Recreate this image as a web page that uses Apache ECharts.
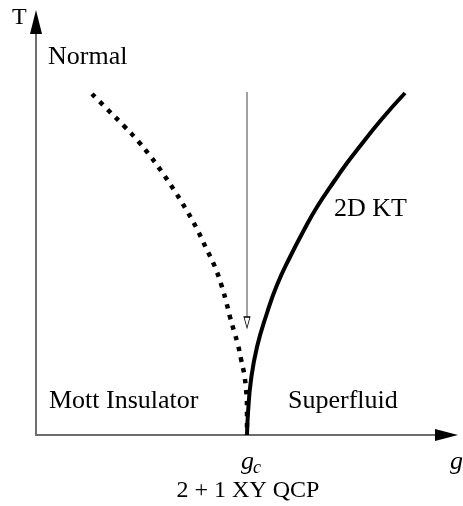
<!DOCTYPE html>
<html>
<head>
<meta charset="utf-8">
<script src="https://cdn.jsdelivr.net/npm/echarts@6/dist/echarts.min.js"></script>
<style>
  html, body { margin: 0; padding: 0; background: #fff; }
  #chart { width: 463px; height: 506px; }
</style>
</head>
<body>
<div id="chart"></div>
<script>
// phase boundaries (x = g, y = T, arbitrary units)
var gc = 211;
var insulatorLine = [[56,341],[73,324],[88,309],[102,294],[115,278],[128,260],[140,242],[151,224],[161,206],[170,187],[179,168],[186,148],[190,134],[194,118],[198,104],[202,90],[205,76],[208,62],[210,46],[211,28],[211,0]];
var ktLine = [[211,0],[212,22],[215,55],[221,88],[231,122],[241,150],[254,178],[268,205],[281,228],[299,255],[311,272],[321,285],[345,315],[369,342]];
// vertical arrow at g = gc, going down from high T
var arrowLine = [[gc,343],[gc,118]];
var arrowHead = [[gc,112.5]];
var xMax = 410, yMax = 413;

var serif = '"Liberation Serif", "DejaVu Serif", serif';

var chart = echarts.init(document.getElementById('chart'));
chart.setOption({
  animation: false,
  grid: { left: 36, right: 17, top: 22, bottom: 71 },
  xAxis: {
    type: 'value', min: 0, max: xMax,
    axisLine: { onZero: false, lineStyle: { color: '#6e6e6e', width: 2 } },
    axisTick: { show: false }, axisLabel: { show: false }, splitLine: { show: false }
  },
  yAxis: {
    type: 'value', min: 0, max: yMax,
    axisLine: { show: true, onZero: false, lineStyle: { color: '#6e6e6e', width: 2 } },
    axisTick: { show: false }, axisLabel: { show: false }, splitLine: { show: false }
  },
  series: [
    {
      type: 'line', data: insulatorLine, smooth: 0.4, symbol: 'none',
      lineStyle: { color: '#000', width: 4.5, type: [4.5, 6.5], cap: 'butt' }
    },
    {
      type: 'line', data: ktLine, smooth: 0.5, symbol: 'none',
      lineStyle: { color: '#000', width: 4 }
    },
    {
      type: 'line', data: arrowLine, symbol: 'none',
      lineStyle: { color: '#444', width: 1 }
    },
    {
      type: 'scatter', data: arrowHead, symbol: 'triangle', symbolSize: [6, 11], symbolRotate: 180,
      itemStyle: { color: '#fff', borderColor: '#000', borderWidth: 1, opacity: 1 }, z: 5
    },
    {
      type: 'scatter', clip: false, symbol: 'triangle', z: 5,
      itemStyle: { color: '#000', opacity: 1 },
      data: [
        { value: [xMax + 0.5, 0], symbolSize: [12, 23], symbolRotate: -90 },
        { value: [0, yMax], symbolSize: [12, 24], symbolRotate: 0 }
      ]
    }
  ],
  graphic: [
    { type: 'text', style: { text: 'T', x: 12, y: 18, font: '24px ' + serif, fill: '#000', verticalAlign: 'middle' } },
    { type: 'text', style: { text: 'Normal', x: 48, y: 57, font: '26px ' + serif, fill: '#000', verticalAlign: 'middle' } },
    { type: 'text', style: { text: '2D KT', x: 334, y: 209, font: '26px ' + serif, fill: '#000', verticalAlign: 'middle' } },
    { type: 'text', style: { text: 'Mott Insulator', x: 49, y: 401, font: '26px ' + serif, fill: '#000', verticalAlign: 'middle' } },
    { type: 'text', style: { text: 'Superfluid', x: 288, y: 401, font: '26px ' + serif, fill: '#000', verticalAlign: 'middle' } },
    { type: 'text', style: { text: 'g', x: 241, y: 462, font: 'italic 26px ' + serif, fill: '#000', verticalAlign: 'middle' } },
    { type: 'text', style: { text: 'c', x: 253, y: 468, font: 'italic 18px ' + serif, fill: '#000', verticalAlign: 'middle' } },
    { type: 'text', style: { text: 'g', x: 450, y: 462, font: 'italic 26px ' + serif, fill: '#000', verticalAlign: 'middle' } },
    { type: 'text', style: { text: '2 + 1 XY QCP', x: 248, y: 491, font: '24px ' + serif, fill: '#000', align: 'center', verticalAlign: 'middle' } }
  ]
});
</script>
</body>
</html>
